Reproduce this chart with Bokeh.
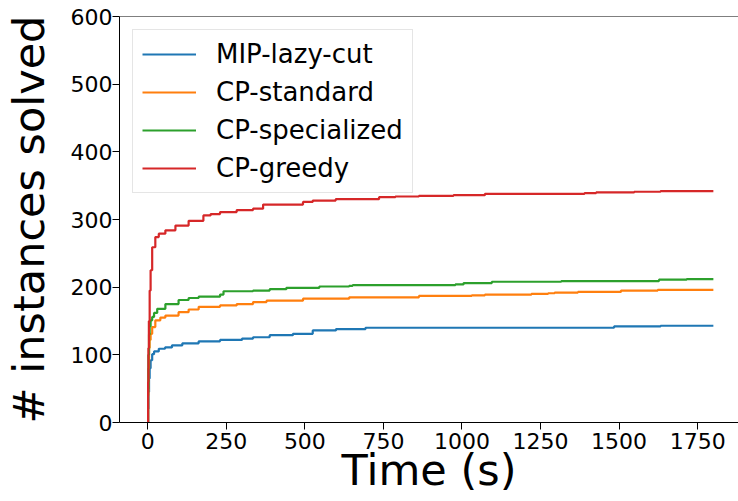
from bokeh.plotting import figure
from bokeh.models import Range1d, FixedTicker, Span, Legend, LegendItem
from bokeh.embed import file_html
from bokeh.resources import INLINE

# Data (time in seconds, cumulative instances solved)
mip_t = [0, 1, 2, 4, 6, 9, 14, 20, 35, 55, 77, 110, 162, 230, 300, 335, 388, 462, 525, 599, 693, 1484, 1632, 1800]
mip_v = [0, 20, 45, 65, 80, 92, 101, 105, 109, 111, 114, 117, 120, 122, 124, 126, 129, 131, 136, 138, 140, 142, 143, 143]

std_t = [0, 1, 2, 4, 6, 9, 14, 24, 40, 56, 98, 130, 162, 230, 283, 335, 378, 494, 641, 863, 1031, 1073, 1221, 1274, 1295, 1369, 1506, 1623, 1800]
std_v = [0, 40, 80, 110, 122, 131, 141, 151, 155, 158, 163, 167, 171, 173, 175, 178, 180, 183, 185, 187, 188, 189, 190, 191, 192, 193, 195, 196, 196]

spec_t = [0, 1, 2, 4, 6, 9, 14, 20, 30, 56, 98, 130, 162, 230, 241, 335, 388, 441, 546, 641, 652, 979, 1005, 1095, 1316, 1627, 1715, 1800]
spec_v = [0, 50, 100, 130, 142, 151, 156, 162, 168, 175, 181, 184, 186, 189, 194, 195, 197, 199, 201, 202, 203, 204, 206, 208, 209, 211, 212, 212]

greedy_t = [0, 1, 2, 3.5, 6, 9, 14, 24, 35, 56, 88, 130, 177, 200, 230, 283, 335, 367, 494, 525, 598, 736, 788, 863, 973, 1073, 1390, 1427, 1548, 1632, 1800]
greedy_v = [0, 60, 110, 150, 195, 225, 259, 274, 279, 284, 291, 298, 306, 308, 311, 314, 316, 322, 326, 328, 330, 333, 334, 335, 336, 338, 339, 340, 341, 342, 342]

series_names = ["MIP-lazy-cut", "CP-standard", "CP-specialized", "CP-greedy"]
series_colors = ["#1f77b4", "#ff7f0e", "#2ca02c", "#d62728"]

x_ticks = [0, 250, 500, 750, 1000, 1250, 1500, 1750]
y_ticks = [0, 100, 200, 300, 400, 500, 600]

x_label = "Time (s)"
y_label = "# instances solved"

FONT = "DejaVu Sans"

p = figure(width=738, height=501, output_backend="svg", toolbar_location=None,
           x_range=Range1d(-90, 1880), y_range=Range1d(0, 600),
           min_border_left=115, min_border_top=16, min_border_right=0, min_border_bottom=79)

p.outline_line_color = None
p.grid.visible = False
p.background_fill_color = "white"
p.border_fill_color = "white"

renderers = []
for t, v, c in zip([mip_t, std_t, spec_t, greedy_t], [mip_v, std_v, spec_v, greedy_v], series_colors):
    r = p.step(t, v, mode="after", line_color=c, line_width=2.2)
    renderers.append(r)

for ax in (p.xaxis[0], p.yaxis[0]):
    ax.axis_line_color = "black"
    ax.axis_line_width = 1
    ax.major_tick_line_color = "black"
    ax.major_tick_line_width = 1
    ax.major_tick_in = 0
    ax.major_tick_out = 7
    ax.minor_tick_line_color = None
    ax.major_label_text_font = FONT
    ax.major_label_text_font_size = "22px"
    ax.major_label_text_color = "black"
    ax.axis_label_text_font = FONT
    ax.axis_label_text_font_size = "43px"
    ax.axis_label_text_font_style = "normal"
    ax.axis_label_text_color = "black"

p.xaxis[0].ticker = FixedTicker(ticks=x_ticks)
p.yaxis[0].ticker = FixedTicker(ticks=y_ticks)
p.xaxis[0].axis_label = x_label
p.yaxis[0].axis_label = y_label
p.xaxis[0].major_label_standoff = 3
p.yaxis[0].major_label_standoff = 0
p.xaxis[0].axis_label_standoff = -7
p.yaxis[0].axis_label_standoff = 14

top_spine = Span(location=600, dimension="width", line_color="black", line_width=1)
p.add_layout(top_spine)

legend = Legend(items=[LegendItem(label=n, renderers=[r]) for n, r in zip(series_names, renderers)],
                location="top_left", margin=13)
legend.label_text_font = FONT
legend.label_text_font_size = "26px"
legend.label_text_color = "black"
legend.glyph_width = 54
legend.glyph_height = 30
legend.label_standoff = 20
legend.padding = 9
legend.spacing = 8
legend.border_line_color = "#cccccc"
legend.border_line_width = 1
legend.background_fill_alpha = 0.8
p.add_layout(legend)

open("out.html", "w").write(file_html(p, INLINE))
